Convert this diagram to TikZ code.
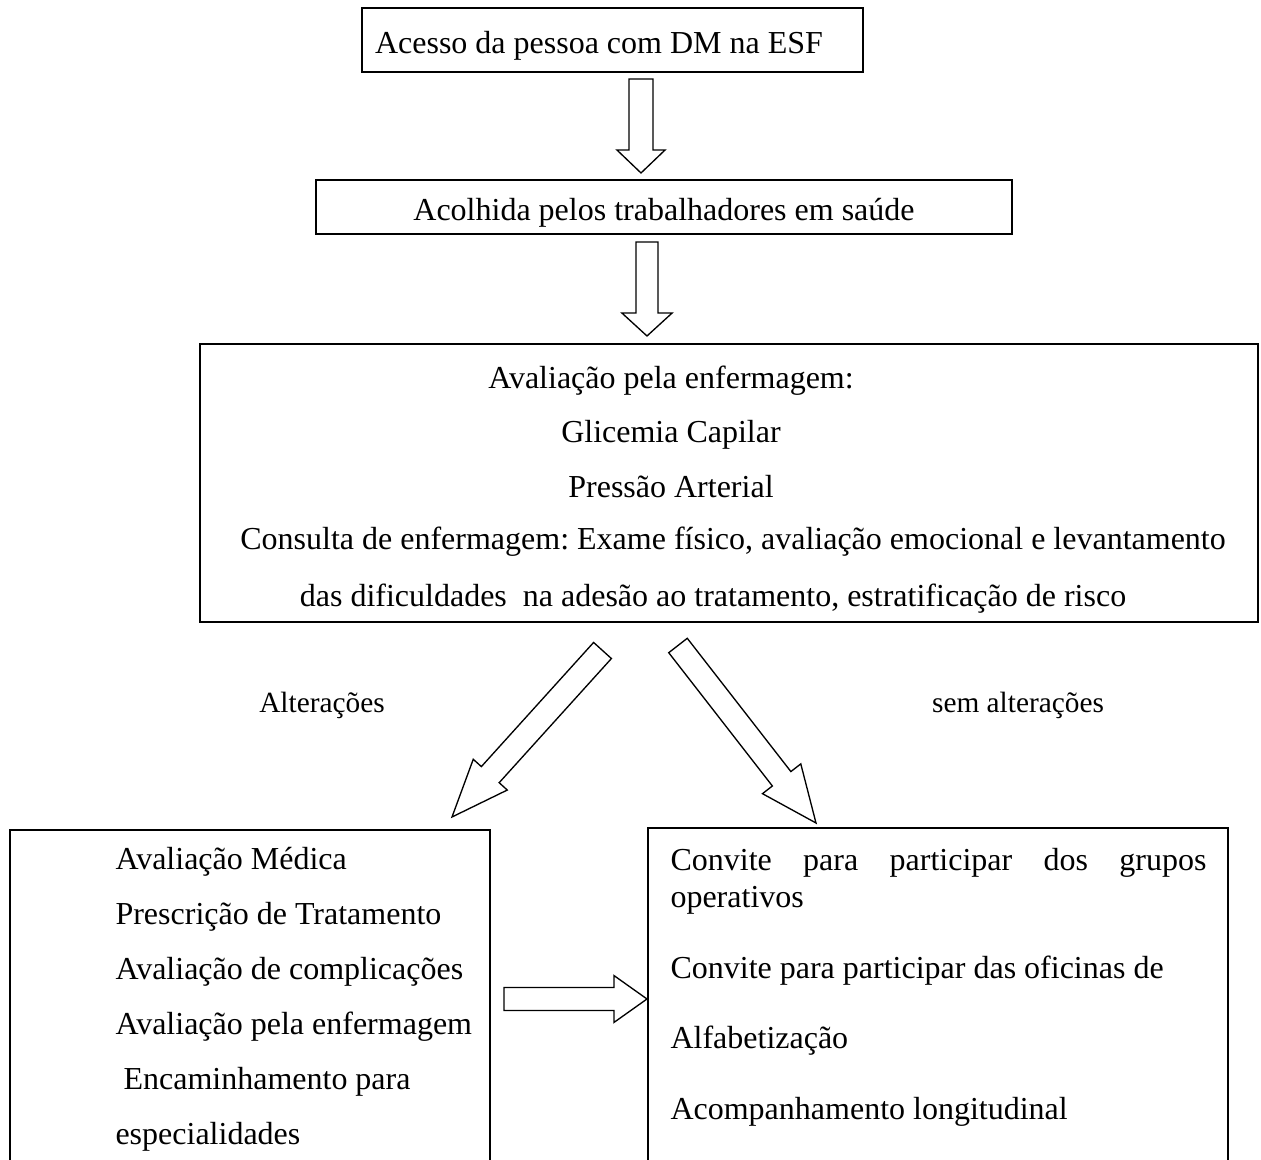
\documentclass[tikz,border=0pt]{standalone}
\usepackage{fontspec}
\setmainfont{Liberation Serif}
\usetikzlibrary{positioning, calc}
\frenchspacing

\tikzset{
    frame/.style={draw, line width=0.6pt, inner sep=0pt},
    boxtext/.style={text height=11.5pt, text depth=1.3pt},
    hollow/.style={draw, line width=0.5pt, line join=miter},
    branch/.style={font=\fontsize{11pt}{13pt}\selectfont, anchor=base}
}

% open block arrow: from, to, half shaft, half head, head length
\newcommand{\hollowarrow}[5]{%
    \coordinate (hb) at ($(#2)!#5!(#1)$);
    \draw[hollow] ($(#1)!#3!90:(#2)$) -- ($(hb)!#3!90:(#2)$) -- ($(hb)!#4!90:(#2)$)
        -- (#2) -- ($(hb)!#4!-90:(#2)$) -- ($(hb)!#3!-90:(#2)$) -- ($(#1)!#3!-90:(#2)$) -- cycle;
}

\begin{document}
\begin{tikzpicture}[x=0.375pt, y=-0.375pt, every node/.style={font=\fontsize{12pt}{20.6pt}\selectfont}]
    \useasboundingbox (0,0) rectangle (1261,1160);

    % boxes
    \node[frame, boxtext, minimum width=187.9pt, minimum height=24pt, inner xsep=4.9pt, text width=178.1pt, align=flush left] (acesso) at (612.5,40) {Acesso da pessoa com DM na ESF};
    \node[frame, boxtext, minimum width=261pt, minimum height=20.25pt] (acolhida) at (664,207) {Acolhida pelos trabalhadores em saúde};
    \node[frame, minimum width=396.8pt, minimum height=104.3pt] (avaliacao) at (729,483) {};
    \node[frame, minimum width=180pt, minimum height=138.8pt] (alter) at (250,1015) {};
    \node[frame, minimum width=217.5pt, minimum height=139.5pt] (semalter) at (938,1014) {};

    % texts
    \node[anchor=north, inner sep=0pt, align=center] (aval) at (671,365) {Avaliação pela enfermagem:\\Glicemia Capilar\\Pressão Arterial};
    \node[anchor=base, inner sep=0pt] (consulta) at (733,550) {Consulta de enfermagem: Exame físico, avaliação emocional e levantamento};
    \node[anchor=base, inner sep=0pt] (dific) at (713,607) {das dificuldades\ \ na adesão ao tratamento, estratificação de risco};
    \node[anchor=north west, inner sep=0pt, align=left] (medica) at (115,847) {Avaliação Médica\\Prescrição de Tratamento\\Avaliação de complicações\\Avaliação pela enfermagem\\\hspace*{3pt}Encaminhamento para\\especialidades};
    \node[anchor=north west, inner sep=0pt, align=left, font=\fontsize{12pt}{13.9pt}\selectfont] (convite) at (670,848) {\makebox[201pt][s]{Convite para participar dos grupos}\\operativos\\[12.5pt]Convite para participar das oficinas de\\[12.5pt]Alfabetização\\[12.5pt]Acompanhamento longitudinal};
    \node[branch] (alt) at (322,713) {Alterações};
    \node[branch] (semalt) at (1018,713) {sem alterações};

    % arrows
    \coordinate (a1s) at (641,79);
    \coordinate (a1e) at (641,173);
    \coordinate (a2s) at (647,242);
    \coordinate (a2e) at (647,336);
    \coordinate (a3s) at (602.5,650.5);
    \coordinate (a3e) at (452,817);
    \coordinate (a4s) at (678,645.5);
    \coordinate (a4e) at (816,823);
    \coordinate (a5s) at (504,999);
    \coordinate (a5e) at (647,999);
    \hollowarrow{a1s}{a1e}{4.5pt}{9pt}{8.6pt}
    \hollowarrow{a2s}{a2e}{4.1pt}{9.4pt}{8.6pt}
    \hollowarrow{a3s}{a3e}{4.5pt}{8.6pt}{21.4pt}
    \hollowarrow{a4s}{a4e}{4.4pt}{9.1pt}{21pt}
    \hollowarrow{a5s}{a5e}{4.3pt}{8.8pt}{12.4pt}
\end{tikzpicture}
\end{document}
